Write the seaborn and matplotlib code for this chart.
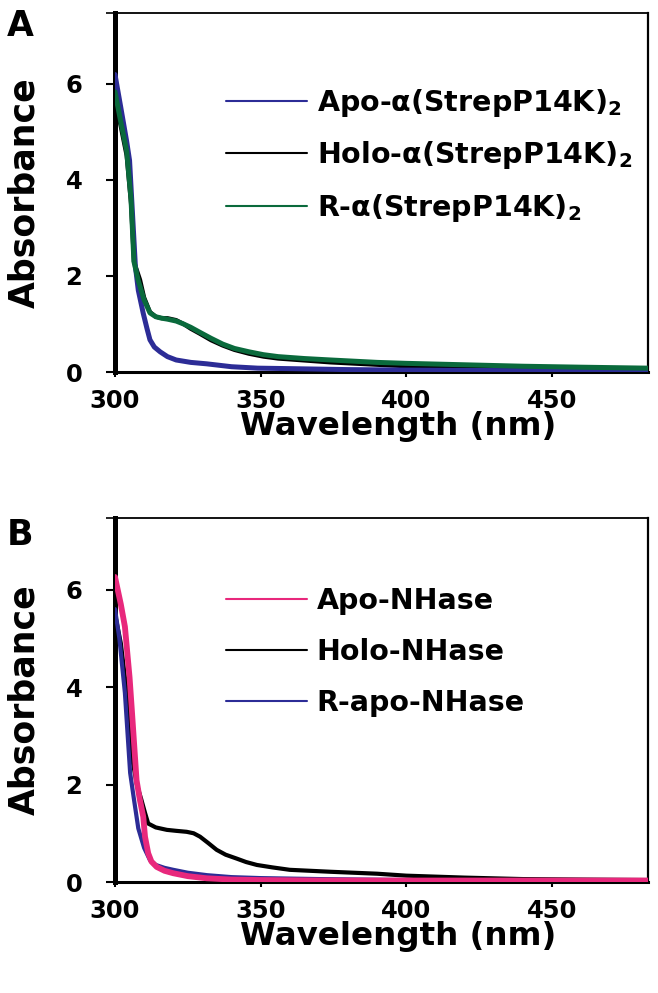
import pandas as pd
import matplotlib.pyplot as plt
import seaborn as sns

# ---- panel A : alpha(StrepP14K)2 spectra ----
wl_apo_a = [300, 302, 304, 305, 306, 307, 308, 309.7, 311, 312, 313.5, 315.5, 318, 321, 326,
            331.5, 340, 349, 360, 380, 400, 430, 460, 483]
abs_apo_a = [6.19, 5.5, 4.8, 4.4, 3.3, 2.2, 1.7, 1.22, 0.9, 0.67, 0.52, 0.42, 0.32, 0.25, 0.2,
             0.17, 0.11, 0.08, 0.07, 0.05, 0.04, 0.03, 0.03, 0.02]

wl_holo_a = [300, 302, 304, 305.5, 306.5, 308.6, 310, 312, 314, 316, 318, 321, 323.5, 326, 329,
             333, 337, 341, 346, 351, 356, 365, 374, 390, 400, 420, 440, 460, 483]
abs_holo_a = [5.7, 5.1, 4.5, 3.5, 2.3, 1.92, 1.55, 1.25, 1.15, 1.12, 1.12, 1.08, 1.0, 0.9, 0.8,
              0.66, 0.55, 0.46, 0.38, 0.32, 0.28, 0.24, 0.2, 0.15, 0.12, 0.09, 0.07, 0.05, 0.04]

wl_r_a = [300, 302, 304, 305.5, 306.5, 308, 310, 312, 314, 316, 318, 321, 323.5, 326, 329,
          333, 337, 341, 346, 351, 356, 365, 374, 390, 400, 420, 440, 460, 483]
abs_r_a = [5.83, 5.2, 4.6, 3.6, 2.3, 1.9, 1.5, 1.23, 1.15, 1.12, 1.1, 1.06, 1.0, 0.93, 0.83,
           0.7, 0.58, 0.49, 0.42, 0.36, 0.32, 0.28, 0.25, 0.2, 0.18, 0.15, 0.12, 0.1, 0.08]

# ---- panel B : NHase spectra ----
wl_apo_b = [300, 302, 303.4, 305, 305.7, 307.4, 308.5, 309.7, 310.3, 311.4, 312.5, 314.3, 317,
            320, 325, 331.5, 340, 350, 370, 400, 430, 460, 483]
abs_apo_b = [6.26, 5.7, 5.24, 4.2, 3.6, 2.09, 1.7, 1.34, 0.93, 0.59, 0.42, 0.31, 0.23,
             0.18, 0.12, 0.076, 0.05, 0.04, 0.03, 0.03, 0.03, 0.03, 0.03]

wl_holo_b = [300, 302, 304, 306, 307.5, 309, 310.3, 311.4, 314, 317.8, 321, 324.6, 327, 329.2,
             332, 334.9, 338, 341.8, 345, 348.7, 354, 360, 374, 390, 400, 420, 440, 460, 483]
abs_holo_b = [5.5, 4.9, 3.9, 2.5, 2.0, 1.7, 1.42, 1.2, 1.12, 1.07, 1.05, 1.03, 1.0, 0.93,
              0.8, 0.66, 0.56, 0.48, 0.41, 0.35, 0.3, 0.25, 0.21, 0.17, 0.13, 0.09, 0.06, 0.05, 0.04]

wl_r_b = [300, 301.5, 303.4, 305.2, 306.5, 308, 310, 312, 314, 317, 320, 325, 331.6, 340, 350,
          370, 400, 430, 460, 483]
abs_r_b = [5.6, 5.0, 3.88, 2.24, 1.7, 1.1, 0.7, 0.45, 0.35, 0.29, 0.25, 0.19, 0.14, 0.1, 0.08,
           0.06, 0.04, 0.03, 0.03, 0.03]

labels_a = ['Apo-α(StrepP14K)$_\\mathbf{2}$', 'Holo-α(StrepP14K)$_\\mathbf{2}$',
            'R-α(StrepP14K)$_\\mathbf{2}$']
labels_b = ['Apo-NHase', 'Holo-NHase', 'R-apo-NHase']

x_ticks = [300, 350, 400, 450]
y_ticks = [0, 2, 4, 6]
x_lim = (300, 483)
y_top = 7.47

BLUE = '#2c2c96'
GREEN = '#0a6a3c'
PINK = '#e8287c'
BLACK = '#000000'

sns.set_style('ticks')
plt.rcParams['font.family'] = ['DejaVu Sans']
plt.rcParams['font.weight'] = 'bold'
plt.rcParams['axes.labelweight'] = 'bold'
plt.rcParams['text.color'] = 'black'
plt.rcParams['axes.labelcolor'] = 'black'
plt.rcParams['xtick.color'] = 'black'
plt.rcParams['ytick.color'] = 'black'


def draw_panel(ax, series, labels, letter, letter_y, leg_y, spacing):
    # series: (label index, x, y, colour, width, zorder) in drawing order
    for idx, xs, ys, col, lw, z in series:
        df = pd.DataFrame({'wl': xs, 'abs': ys})
        sns.lineplot(data=df, x='wl', y='abs', ax=ax, color=col, linewidth=lw,
                     label=labels[idx], zorder=z)

    ax.set_xlim(*x_lim)
    ax.set_ylim(0, y_top)
    ax.set_xticks(x_ticks)
    ax.set_yticks(y_ticks)
    ax.set_yticks([y_top], minor=True)
    ax.tick_params(axis='x', direction='out', length=3.6, width=1.5, pad=8.5,
                   labelsize=17.5, colors='black')
    ax.tick_params(axis='y', which='major', direction='out', length=6.5, width=1.5,
                   pad=17, labelsize=17.5, colors='black')
    ax.tick_params(axis='y', which='minor', direction='out', length=6.5, width=1.2,
                   colors='black')
    for lab in ax.get_xticklabels() + ax.get_yticklabels():
        lab.set_fontweight('bold')
        lab.set_color('black')

    for side, w in [('left', 3.6), ('bottom', 2.2), ('top', 1.3), ('right', 1.6)]:
        ax.spines[side].set_visible(True)
        ax.spines[side].set_linewidth(w)
        ax.spines[side].set_color('black')

    ax.set_xlabel('Wavelength (nm)', fontsize=23.4, fontweight='bold', color='black')
    ax.set_ylabel('Absorbance', fontsize=25, fontweight='bold', color='black')
    ax.xaxis.set_label_coords(0.531, -0.108)
    ax.yaxis.set_label_coords(-0.138, 0.5)

    handles, labs = ax.get_legend_handles_labels()
    order = [labs.index(l) for l in labels]
    leg = ax.legend([handles[i] for i in order], [labs[i] for i in order],
                    loc='upper left', bbox_to_anchor=(0.208, leg_y), frameon=False,
                    fontsize=20.5, handlelength=2.84, handletextpad=0.35,
                    labelspacing=spacing, borderpad=0, borderaxespad=0)
    for line in leg.get_lines():
        line.set_linewidth(1.5)
    for t in leg.get_texts():
        t.set_fontweight('bold')
        t.set_color('black')

    ax.figure.text(7 / 658, letter_y, letter, fontsize=25, fontweight='bold',
                   va='baseline', ha='left', color='black')


fig = plt.figure(figsize=(6.58, 9.93), dpi=100)
ax_a = fig.add_axes([115 / 658, 1 - 372 / 993, 533 / 658, 359 / 993])
ax_b = fig.add_axes([115 / 658, 1 - 882 / 993, 533 / 658, 364 / 993])

draw_panel(ax_a, [(1, wl_holo_a, abs_holo_a, BLACK, 3.0, 2),
                  (0, wl_apo_a, abs_apo_a, BLUE, 3.6, 3),
                  (2, wl_r_a, abs_r_a, GREEN, 3.6, 4)],
           labels_a, 'A', 1 - 36 / 993, 0.795, 0.72)

draw_panel(ax_b, [(1, wl_holo_b, abs_holo_b, BLACK, 3.0, 2),
                  (2, wl_r_b, abs_r_b, BLUE, 3.0, 3),
                  (0, wl_apo_b, abs_apo_b, PINK, 4.2, 4)],
           labels_b, 'B', 1 - 545 / 993, 0.81, 0.8)

fig.savefig('out.png', dpi=100)
